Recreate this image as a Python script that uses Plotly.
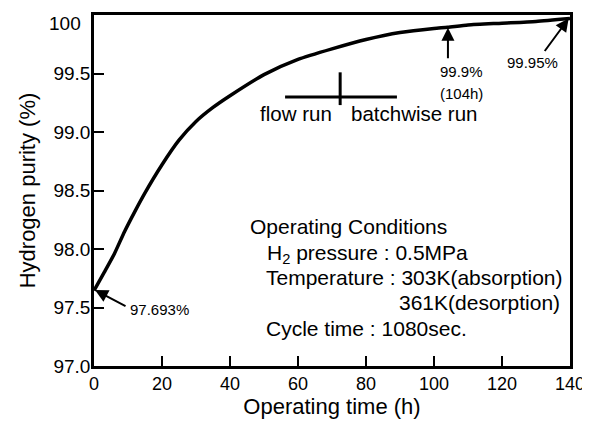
import plotly.graph_objects as go

# Data
time_h = [0, 3, 6, 9, 12, 15, 20, 25, 30, 35, 40, 50, 60, 70, 80, 90, 100, 104, 110, 120, 130, 140]
purity = [97.645, 97.80, 97.96, 98.15, 98.32, 98.48, 98.72, 98.93, 99.09, 99.21, 99.31, 99.49, 99.62,
          99.71, 99.79, 99.85, 99.885, 99.895, 99.915, 99.93, 99.945, 99.97]

x_ticks = [0, 20, 40, 60, 80, 100, 120, 140]
y_ticks = [97.0, 97.5, 98.0, 98.5, 99.0, 99.5, 100.0]
y_ticklabels = ["97.0", "97.5", "98.0", "98.5", "99.0", "99.5", ""]
y_top_label = "100"

FONT = "Liberation Sans, Arial, Helvetica, sans-serif"

fig = go.Figure()
fig.add_trace(go.Scatter(x=time_h, y=purity, mode="lines",
                         line=dict(color="black", width=3.5, shape="spline", smoothing=0.6),
                         showlegend=False, hoverinfo="skip"))

ann = []
def text(x, y, s, size=20, xanchor="left"):
    ann.append(dict(x=x, y=y, xref="x", yref="y", text=s, showarrow=False,
                    xanchor=xanchor, yanchor="middle",
                    font=dict(family=FONT, size=size, color="black")))

def arrow(x, y, ax, ay):
    ann.append(dict(x=x, y=y, xref="x", yref="y", text="", showarrow=True,
                    ax=ax, ay=ay, arrowhead=2, arrowsize=1.3, arrowwidth=2,
                    arrowcolor="black"))

# top y tick label, set just below the frame as in the reference
ann.append(dict(x=0, y=y_ticks[-1], xref="paper", yref="y", text=y_top_label, showarrow=False,
                xanchor="right", yanchor="middle", xshift=-11, yshift=-8,
                font=dict(family=FONT, size=19, color="black")))

# point labels
arrow(0.3, 97.65, 32, 17)
text(19.2, 97.485, "97.693%", size=15, xanchor="center")
arrow(104.1, 99.89, 0, 32)
text(108.2, 99.52, "99.9%", size=15, xanchor="center")
text(108.2, 99.33, "(104h)", size=15, xanchor="center")
arrow(139.6, 99.97, -25, 34)
text(129.1, 99.59, "99.95%", size=15, xanchor="center")

# flow / batchwise marker
text(70.6, 99.16, "flow run", size=20.5, xanchor="right")
text(74.9, 99.16, "batchwise run", size=20.5, xanchor="left")

# operating conditions
text(45.2, 98.19, "Operating Conditions", size=21)
text(50.3, 97.96, "H<sub>2</sub> pressure : 0.5MPa", size=21)
text(50.1, 97.76, "Temperature : 303K(absorption)", size=21)
text(137.5, 97.545, "361K(desorption)", size=21, xanchor="right")
text(50.1, 97.32, "Cycle time : 1080sec.", size=21)

shapes = [
    dict(type="line", xref="x", yref="y", x0=56.2, x1=89.1, y0=99.30, y1=99.30,
         line=dict(color="black", width=3)),
    dict(type="line", xref="x", yref="y", x0=72.4, x1=72.4, y0=99.23, y1=99.51,
         line=dict(color="black", width=3)),
]

fig.update_layout(
    width=590, height=421,
    margin=dict(l=86, r=28, t=7, b=63, autoexpand=False),
    paper_bgcolor="white", plot_bgcolor="white",
    font=dict(family=FONT, color="black"),
    annotations=ann, shapes=shapes,
    xaxis=dict(range=[0, 140], tickvals=x_ticks, ticks="inside", ticklen=10, tickwidth=2,
               tickcolor="black", showgrid=False, zeroline=False, automargin=False,
               showline=True, linecolor="black", linewidth=2.5, mirror=True,
               tickfont=dict(size=18, family=FONT),
               title=dict(text="Operating time (h)", font=dict(size=22, family=FONT), standoff=2)),
    yaxis=dict(range=[97.0, 100.0], tickvals=y_ticks, ticktext=y_ticklabels,
               ticks="inside", ticklen=10, tickwidth=2, automargin=False,
               tickcolor="black", showgrid=False, zeroline=False,
               showline=True, linecolor="black", linewidth=2.5, mirror=True,
               ticklabeloverflow="allow", ticklabelstandoff=-3,
               tickfont=dict(size=19, family=FONT),
               title=dict(text="Hydrogen purity (%)", font=dict(size=22, family=FONT), standoff=12)),
)

fig.write_html("out.html")
